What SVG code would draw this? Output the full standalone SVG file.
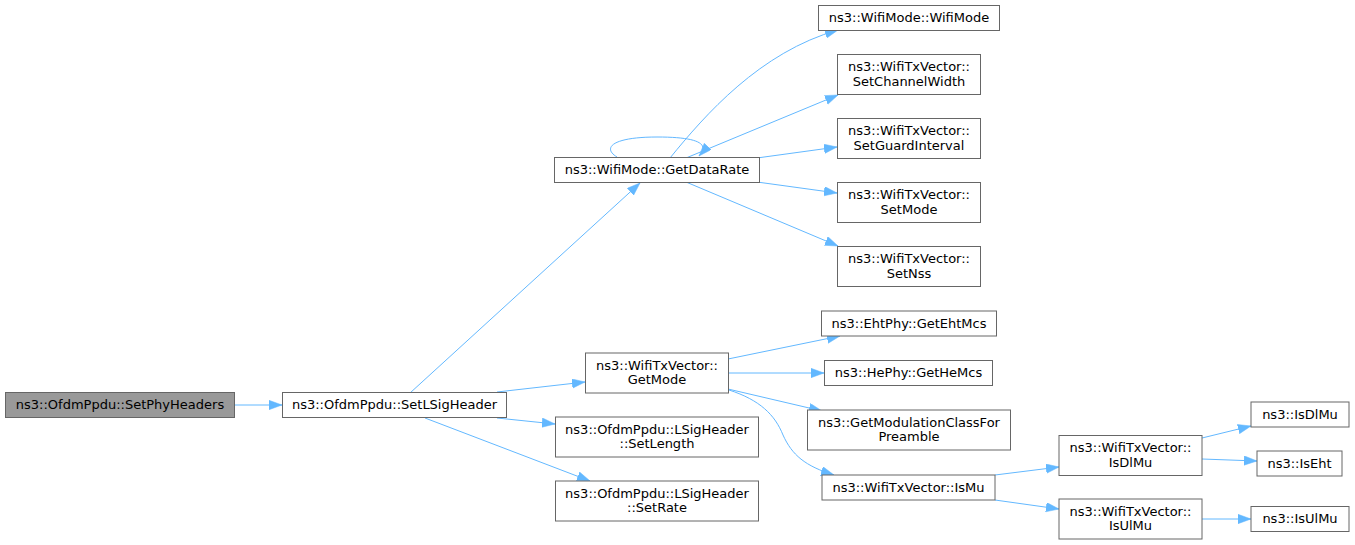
<svg xmlns="http://www.w3.org/2000/svg" width="1355" height="545" viewBox="0 0 1355 545">
<style>
.n rect{fill:#ffffff;stroke:#666666;stroke-width:1}
.n.root rect{fill:#999999}
text{font-family:"DejaVu Sans","Liberation Sans",sans-serif;font-size:13px;fill:#000000;text-anchor:middle}
#edges path{fill:none;stroke:#63b8ff;stroke-width:1;marker-end:url(#ah)}
</style>
<defs>
<marker id="ah" markerUnits="userSpaceOnUse" markerWidth="14" markerHeight="10" refX="13" refY="4.7" orient="auto" viewBox="0 0 14 10">
<path d="M0,0 L13,4.7 L0,9.4 z" fill="#63b8ff" stroke="#63b8ff" stroke-width="0.5"/>
</marker>
</defs>
<rect width="1355" height="545" fill="#ffffff"/>
<g id="edges">
<path d="M234,405 L282,405"/>
<path d="M410,393 L640,183"/>
<path d="M497,392 L585,382"/>
<path d="M497,418 L555,424"/>
<path d="M425,418 L590,481"/>
<path d="M617,157 C602,148 612,137 657,137 C699,137 710,144 699,156"/>
<path d="M670,158 C705,115 760,52 838,30"/>
<path d="M686,158 L838,95"/>
<path d="M757,158 L837,147"/>
<path d="M757,182 L837,193"/>
<path d="M686,182 L838,246"/>
<path d="M728,359 L840,336"/>
<path d="M728,373 L824,373"/>
<path d="M728,389 L822,411"/>
<path d="M729,390 C760,400 775,415 783,435 C792,455 805,466 834,475"/>
<path d="M995,475 L1059,467"/>
<path d="M995,500 L1059,509"/>
<path d="M1202,438 L1251,426"/>
<path d="M1202,459 L1257,461"/>
<path d="M1202,519 L1251,519"/>
</g>
<g id="n1" class="n root"><rect x="5.5" y="392.5" width="229" height="25"/><text x="120" y="409">ns3::OfdmPpdu::SetPhyHeaders</text></g>
<g id="n2" class="n"><rect x="282.5" y="392.5" width="224" height="25"/><text x="394.5" y="409">ns3::OfdmPpdu::SetLSigHeader</text></g>
<g id="n3" class="n"><rect x="554.5" y="157.5" width="205" height="25"/><text x="657" y="174">ns3::WifiMode::GetDataRate</text></g>
<g id="n4" class="n"><rect x="818.5" y="5.5" width="181" height="25"/><text x="909" y="22">ns3::WifiMode::WifiMode</text></g>
<g id="n5" class="n"><rect x="837.5" y="54.5" width="143" height="40"/><text x="909" y="71">ns3::WifiTxVector::</text><text x="909" y="85.5">SetChannelWidth</text></g>
<g id="n6" class="n"><rect x="837.5" y="118.5" width="143" height="40"/><text x="909" y="135">ns3::WifiTxVector::</text><text x="909" y="149.5">SetGuardInterval</text></g>
<g id="n7" class="n"><rect x="837.5" y="182.5" width="143" height="40"/><text x="909" y="199">ns3::WifiTxVector::</text><text x="909" y="213.5">SetMode</text></g>
<g id="n8" class="n"><rect x="837.5" y="246.5" width="143" height="40"/><text x="909" y="263">ns3::WifiTxVector::</text><text x="909" y="277.5">SetNss</text></g>
<g id="n9" class="n"><rect x="585.5" y="353" width="143" height="40"/><text x="657" y="369.5">ns3::WifiTxVector::</text><text x="657" y="384">GetMode</text></g>
<g id="n10" class="n"><rect x="555.5" y="417" width="203" height="40"/><text x="657" y="433.5">ns3::OfdmPpdu::LSigHeader</text><text x="657" y="448">::SetLength</text></g>
<g id="n11" class="n"><rect x="555.5" y="481" width="203" height="40"/><text x="657" y="497.5">ns3::OfdmPpdu::LSigHeader</text><text x="657" y="512">::SetRate</text></g>
<g id="n12" class="n"><rect x="821.5" y="311" width="175" height="25"/><text x="909" y="327.5">ns3::EhtPhy::GetEhtMcs</text></g>
<g id="n13" class="n"><rect x="824.5" y="360.5" width="168" height="25"/><text x="908.5" y="377">ns3::HePhy::GetHeMcs</text></g>
<g id="n14" class="n"><rect x="807.5" y="410" width="203" height="40"/><text x="909" y="426.5">ns3::GetModulationClassFor</text><text x="909" y="441">Preamble</text></g>
<g id="n15" class="n"><rect x="822" y="475" width="173" height="25"/><text x="908.5" y="491.5">ns3::WifiTxVector::IsMu</text></g>
<g id="n16" class="n"><rect x="1059" y="435.5" width="143" height="40"/><text x="1130.5" y="452">ns3::WifiTxVector::</text><text x="1130.5" y="466.5">IsDlMu</text></g>
<g id="n17" class="n"><rect x="1059" y="499" width="143" height="40"/><text x="1130.5" y="515.5">ns3::WifiTxVector::</text><text x="1130.5" y="530">IsUlMu</text></g>
<g id="n18" class="n"><rect x="1251" y="402" width="98" height="25"/><text x="1300" y="418.5">ns3::IsDlMu</text></g>
<g id="n19" class="n"><rect x="1257" y="451" width="85" height="25"/><text x="1299.5" y="467.5">ns3::IsEht</text></g>
<g id="n20" class="n"><rect x="1251" y="506.5" width="98" height="25"/><text x="1300" y="523">ns3::IsUlMu</text></g>
</svg>
